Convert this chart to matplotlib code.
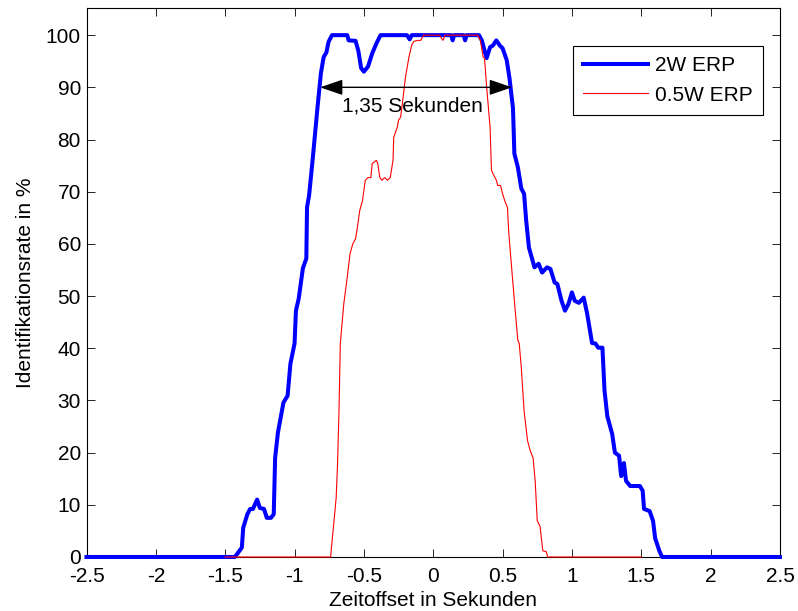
import numpy as np
import matplotlib
matplotlib.use("Agg")
import matplotlib.pyplot as plt
from matplotlib.ticker import FuncFormatter

plt.rcParams['font.family'] = ['Liberation Sans', 'DejaVu Sans']
plt.rcParams['axes.unicode_minus'] = False

# ---------------------------------------------------------------------------
# Data
# ---------------------------------------------------------------------------
x_2w = [-2.5, -1.43, -1.38, -1.37, -1.34, -1.32, -1.30, -1.27, -1.25, -1.22,
        -1.20, -1.17, -1.15, -1.14, -1.12, -1.10, -1.08, -1.05, -1.03, -1.0,
        -0.99, -0.97, -0.94, -0.915, -0.91, -0.895, -0.87, -0.835, -0.81, -0.79,
        -0.77, -0.755, -0.73, -0.62, -0.61, -0.56, -0.54, -0.52, -0.50, -0.47,
        -0.44, -0.41, -0.38, -0.19, -0.17, -0.155, 0.13, 0.14, 0.15, 0.22,
        0.23, 0.24, 0.33, 0.35, 0.385, 0.41, 0.43, 0.455, 0.48, 0.50,
        0.53, 0.55, 0.575, 0.585, 0.61, 0.635, 0.655, 0.67, 0.69, 0.73,
        0.76, 0.785, 0.82, 0.845, 0.875, 0.895, 0.925, 0.95, 0.975, 1.0,
        1.02, 1.05, 1.085, 1.11, 1.145, 1.17, 1.19, 1.22, 1.235, 1.255,
        1.29, 1.31, 1.34, 1.355, 1.375, 1.39, 1.42, 1.49, 1.51, 1.52,
        1.56, 1.585, 1.60, 1.63, 1.65, 2.5]
y_2w = [0, 0, 1.8, 5.6, 8.2, 9.2, 9.2, 11, 9.4, 9.2,
        7.5, 7.5, 8.2, 19, 23.8, 26.7, 29.6, 30.9, 37, 40.9,
        47.2, 49.5, 55.3, 57.2, 67, 69.3, 76, 86, 92.7, 95.8,
        96.7, 98.7, 100, 100, 99, 98.9, 97, 93.7, 93, 94,
        96.5, 98.4, 100, 100, 99.2, 100, 100, 99, 100, 100,
        99, 100, 100, 99, 95.6, 97.7, 98, 99, 98, 97.5,
        95.2, 91.7, 86, 77.3, 74.7, 70.6, 69.6, 64.5, 59.3, 55.5,
        56.2, 54.5, 55.5, 55.2, 52.6, 52.3, 49.1, 47.2, 48.5, 50.7,
        49.1, 48.7, 49.7, 46.6, 41, 40.9, 40.1, 40.1, 31.9, 27,
        23.6, 20, 19.4, 15.5, 18, 14.6, 13.6, 13.6, 12.7, 9.2,
        8.8, 6.9, 3.6, 1.2, 0, 0]

x_05w = [-1.5, -0.74, -0.70, -0.69, -0.68, -0.67, -0.645, -0.62, -0.60, -0.58,
         -0.56, -0.55, -0.53, -0.51, -0.49, -0.47, -0.45, -0.44, -0.41, -0.40,
         -0.385, -0.37, -0.35, -0.33, -0.31, -0.29, -0.285, -0.26, -0.25, -0.235,
         -0.22, -0.20, -0.175, -0.155, -0.14, -0.11, -0.09, -0.07, 0.045, 0.07,
         0.085, 0.32, 0.34, 0.36, 0.37, 0.385, 0.395, 0.41, 0.42, 0.43,
         0.455, 0.465, 0.485, 0.50, 0.515, 0.535, 0.545, 0.565, 0.585, 0.61,
         0.62, 0.635, 0.655, 0.68, 0.70, 0.72, 0.735, 0.75, 0.77, 0.79,
         0.815, 0.825, 1.5]
y_05w = [0, 0, 11.3, 17.8, 27.4, 40.9, 48.5, 53.6, 58.1, 60,
         61, 62.6, 66.4, 68.3, 72.2, 72.7, 72.7, 75.4, 76, 75.4,
         72.7, 72.2, 72.7, 72.2, 72.7, 76, 80.4, 82.3, 83.7, 84.3,
         87.5, 92, 95.8, 98.1, 98.8, 99, 99, 100, 100, 99,
         100, 100, 99, 95.8, 95.6, 90, 87, 82.3, 74.1, 73.5,
         72.2, 71.2, 71.2, 69.6, 68.3, 67, 62, 55.5, 49.1, 41.5,
         40.9, 36.3, 28, 22.3, 20.3, 19, 14.6, 6.9, 5.9, 1.2,
         1.0, 0, 0]

labels = ['2W ERP', '0.5W ERP']
span_start, span_end, span_level = -0.816, 0.568, 90
span_text = '1,35 Sekunden'

# ---------------------------------------------------------------------------
# Figure
# ---------------------------------------------------------------------------
fs = 15
fig = plt.figure(figsize=(7.98, 6.11), dpi=100)
fig.patch.set_facecolor('white')
ax = fig.add_axes([0.1084, 0.0884, 0.869, 0.8985])

ax.plot(x_2w, y_2w, color=(0, 0, 1), lw=2.9, label=labels[0],
        zorder=3, clip_on=False, solid_joinstyle='round')
ax.plot(x_05w, y_05w, color=(1, 0, 0), lw=0.8, label=labels[1],
        zorder=3, clip_on=False)

ax.set_xlim(-2.5, 2.5)
ax.set_ylim(0, 105.2)
ax.set_xticks(np.arange(-2.5, 2.51, 0.5))
ax.set_yticks(np.arange(0, 101, 10))
ax.xaxis.set_major_formatter(FuncFormatter(lambda v, p: '%g' % round(v, 2)))
ax.tick_params(direction='in', top=True, right=True, length=5.5, width=0.6,
               labelsize=fs)
ax.tick_params(axis='x', pad=7.5)
ax.tick_params(axis='y', pad=4)
for sp in ax.spines.values():
    sp.set_linewidth(0.8)

ax.set_xlabel('Zeitoffset in Sekunden', fontsize=fs, labelpad=3)
ax.set_ylabel('Identifikationsrate in %', fontsize=fs, labelpad=8)

# span annotation
ax.annotate('', xy=(span_start, span_level), xytext=(span_end, span_level),
            arrowprops=dict(arrowstyle='<|-|>,head_length=0.7,head_width=0.24',
                            color='k', lw=1, shrinkA=0, shrinkB=0,
                            mutation_scale=20))
ax.text(-0.153, span_level - 3.6, span_text,
        ha='center', va='center', fontsize=fs)

leg = ax.legend(loc='upper right', bbox_to_anchor=(0.9755, 0.931),
                borderaxespad=0, fontsize=fs, fancybox=False,
                edgecolor='k', framealpha=1, handlelength=3.1,
                handletextpad=0.35, labelspacing=0.5, borderpad=0.5)
leg.get_frame().set_linewidth(0.8)

fig.savefig('out.png', dpi=100, facecolor='white')
